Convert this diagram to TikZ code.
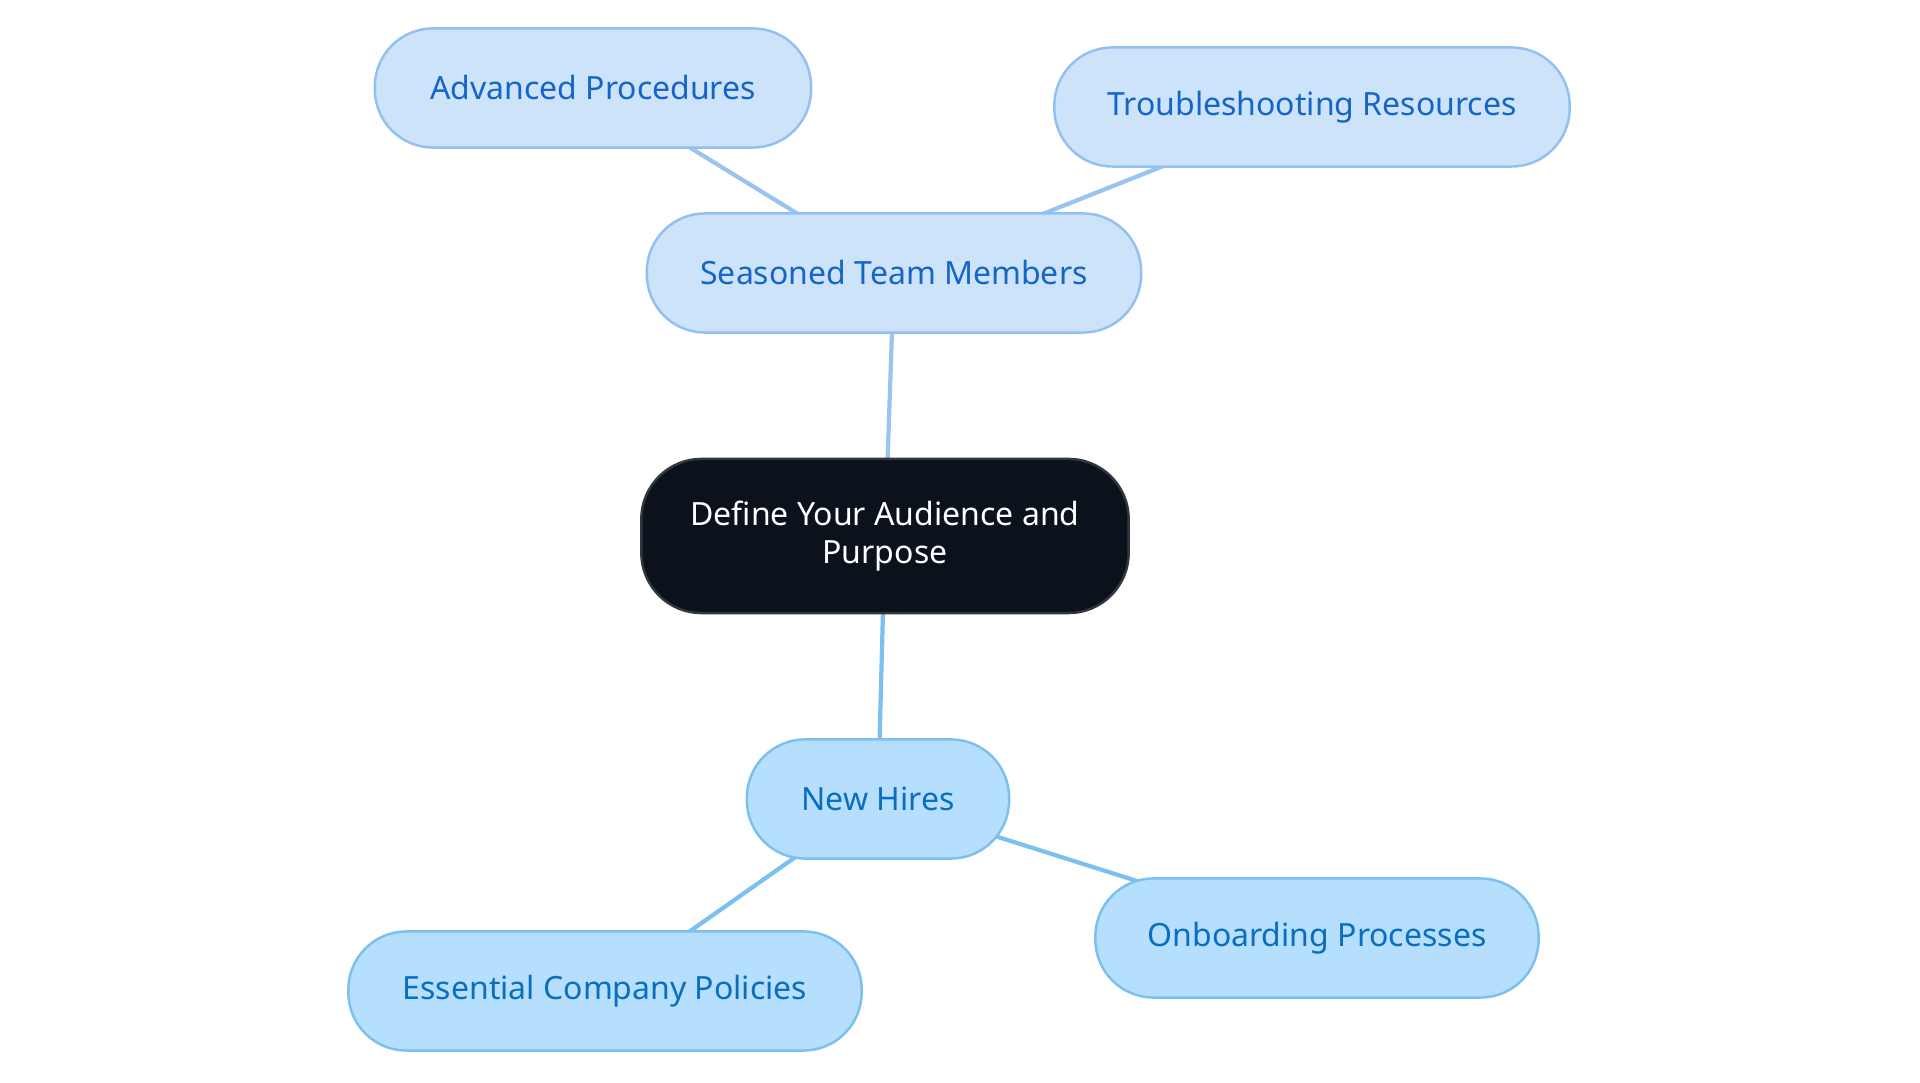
\documentclass[tikz,border=0pt]{standalone}
\usepackage{fontspec}
\setmainfont{Noto Sans}
\usetikzlibrary{backgrounds}
\definecolor{topfill}{HTML}{CDE3FA}
\definecolor{topdraw}{HTML}{92C0F0}
\definecolor{toptext}{HTML}{1565C8}
\definecolor{botfill}{HTML}{B5DFFC}
\definecolor{botdraw}{HTML}{7CC0F0}
\definecolor{bottext}{HTML}{0A6EC0}
\definecolor{rootfill}{HTML}{0C121C}
\definecolor{rootdraw}{HTML}{33363C}
\definecolor{topedge}{HTML}{9AC4F0}
\definecolor{botedge}{HTML}{7CC0F0}
\tikzset{
  box/.style={rectangle, rounded corners=0.58cm, line width=0.7pt, font=\fontsize{9.1}{10.6}\selectfont, inner sep=0pt, align=center, minimum height=1.19cm},
  topbox/.style={box, fill=topfill, draw=topdraw, text=toptext},
  botbox/.style={box, fill=botfill, draw=botdraw, text=bottext},
  rootbox/.style={box, fill=rootfill, draw=rootdraw, text=white, rounded corners=0.6cm, minimum height=1.54cm},
  topline/.style={draw=topedge, line width=1.2pt},
  botline/.style={draw=botedge, line width=1.2pt}
}
\begin{document}
\begin{tikzpicture}[x=0.01cm,y=-0.01cm]
\useasboundingbox (0,0) rectangle (1920,1083);
\node[rootbox, minimum width=4.87cm] (root) at (885,536) {Define Your Audience and\\Purpose};
\node[topbox, minimum width=4.94cm] (stm) at (894,273) {Seasoned Team Members};
\node[topbox, minimum width=4.36cm] (adv) at (593,88) {Advanced Procedures};
\node[topbox, minimum width=5.15cm] (trb) at (1312,107) {Troubleshooting Resources};
\node[botbox, minimum width=2.62cm] (nh) at (878,799) {New Hires};
\node[botbox, minimum width=5.13cm] (ecp) at (605,991) {Essential Company Policies};
\node[botbox, minimum width=4.43cm] (onb) at (1317,938) {Onboarding Processes};
\begin{scope}[on background layer]
\draw[topline] (root.center) -- (stm.center);
\draw[topline] (stm.center) -- (adv.center);
\draw[topline] (stm.center) -- (trb.center);
\draw[botline] (root.center) -- (nh.center);
\draw[botline] (nh.center) -- (ecp.center);
\draw[botline] (nh.center) -- (onb.center);
\end{scope}
\end{tikzpicture}
\end{document}
